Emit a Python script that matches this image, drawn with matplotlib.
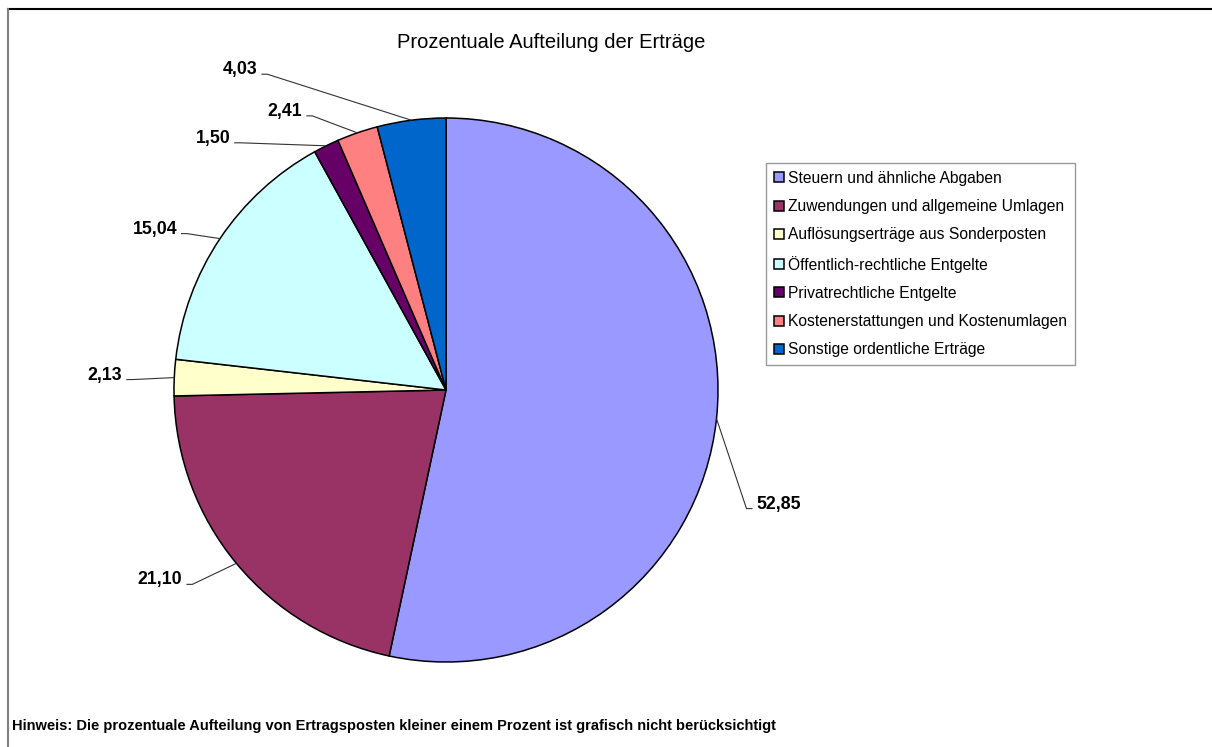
import matplotlib
matplotlib.use('Agg')
import matplotlib.pyplot as plt
from matplotlib.lines import Line2D
import numpy as np

plt.rcParams['font.family'] = ['Liberation Sans', 'DejaVu Sans']

# Daten (Prozent)
categories = [
    'Steuern und ähnliche Abgaben',
    'Zuwendungen und allgemeine Umlagen',
    'Auflösungserträge aus Sonderposten',
    'Öffentlich-rechtliche Entgelte',
    'Privatrechtliche Entgelte',
    'Kostenerstattungen und Kostenumlagen',
    'Sonstige ordentliche Erträge',
]
values = [52.85, 21.10, 2.13, 15.04, 1.50, 2.41, 4.03]
colors = ['#9999FF', '#993366', '#FFFFCC', '#CCFFFF', '#660066', '#FF8080', '#0066CC']

title = 'Prozentuale Aufteilung der Erträge'
note = 'Hinweis: Die prozentuale Aufteilung von Ertragsposten kleiner einem Prozent ist grafisch nicht berücksichtigt'

# Layout in Pixeln (y von oben)
W, H = 1212, 747
cx, cy, r = 446, 390, 272
# Knickpunkt der Führungslinie relativ zum Randpunkt (dx, dy nach unten)
elbow_off = [(30, 90), (-44, 21), (-42, 2), (-33, -5), (-86, -3), (-45, -17), (-144, -46)]
tail = 6
gap = 4


def Y(y):
    return H - y


fig = plt.figure(figsize=(W / 100, H / 100), dpi=100)
ax = fig.add_axes([0, 0, 1, 1])

wedges, _ = ax.pie(values, colors=colors, startangle=90, counterclock=False,
                   center=(cx, Y(cy)), radius=r,
                   wedgeprops=dict(edgecolor='black', linewidth=1.1))
ax.set_xlim(0, W)
ax.set_ylim(0, H)
ax.set_aspect('equal')
ax.axis('off')

# Datenbeschriftungen mit Führungslinien
for w, v, (dx, dy) in zip(wedges, values, elbow_off):
    mid = np.deg2rad((w.theta1 + w.theta2) / 2)
    ex = cx + r * np.cos(mid)
    ey = Y(cy) + r * np.sin(mid)
    bx, by = ex + dx, ey - dy
    side = 1 if dx > 0 else -1
    tx = bx + side * tail
    ax.plot([ex, bx, tx], [ey, by, by], color='#333333', lw=0.8, solid_capstyle='butt')
    ax.text(tx + side * gap, by, f'{v:.2f}'.replace('.', ','),
            ha='left' if side > 0 else 'right', va='baseline',
            fontsize=12.8, fontweight='bold')

# Titel
ax.text(551, Y(42), title, ha='center', va='center', fontsize=14.5)

# Legende
leg = ax.legend(wedges, categories, loc='upper left',
                bbox_to_anchor=(766 / W, Y(163) / H), bbox_transform=fig.transFigure,
                borderaxespad=0, fontsize=11.25, frameon=True, fancybox=False,
                handlelength=0.62, handleheight=0.62, handletextpad=0.3,
                labelspacing=0.85, borderpad=0.5)
leg.get_frame().set_edgecolor('#808080')
leg.get_frame().set_linewidth(1.0)

# Hinweis
ax.text(12, Y(726), note, ha='left', va='center', fontsize=10.5, fontweight='bold')

# Rahmen (oben und links)
fig.add_artist(Line2D([8 / W, 1], [Y(9) / H, Y(9) / H], color='black', lw=1.5))
fig.add_artist(Line2D([8 / W, 8 / W], [0, Y(9) / H], color='#808080', lw=1.5))

fig.savefig('out.png', dpi=100)
